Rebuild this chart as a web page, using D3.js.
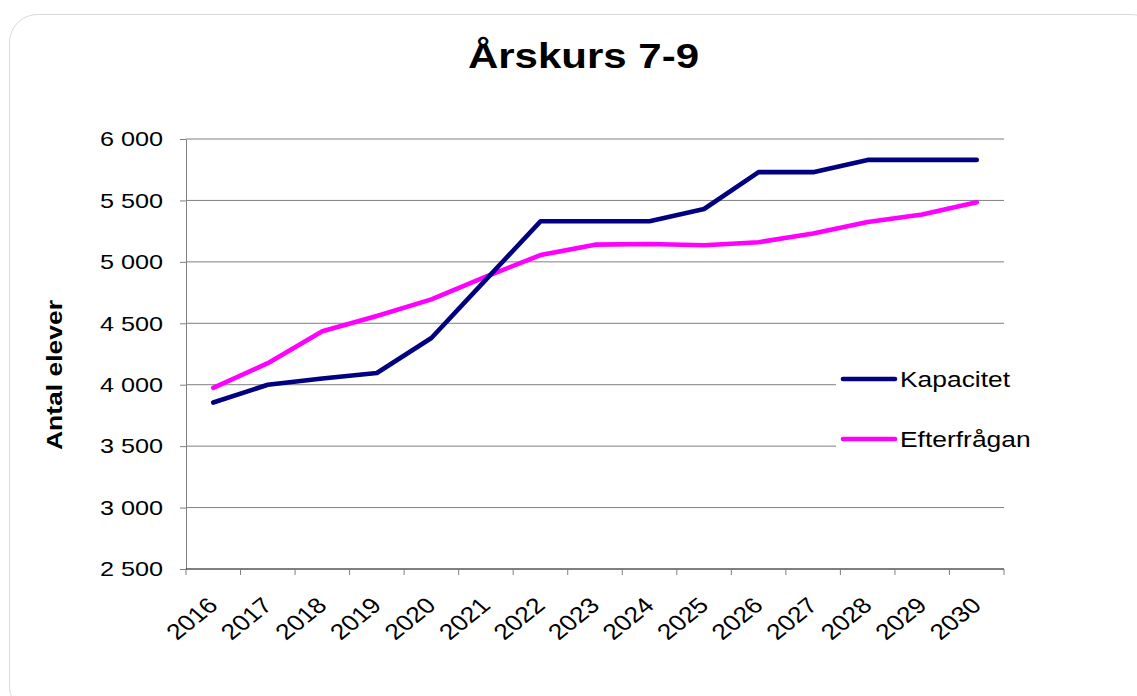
<!DOCTYPE html>
<html>
<head>
<meta charset="utf-8">
<script src="https://cdn.jsdelivr.net/npm/d3@7"></script>
<style>
  body { margin: 0; background: #fff; }
  text { font-family: Arial, "Liberation Sans", sans-serif; fill: #000; }
</style>
</head>
<body>
<script>
const years = ["2016", "2017", "2018", "2019", "2020", "2021", "2022", "2023", "2024", "2025", "2026", "2027", "2028", "2029", "2030"];
const kapacitet = [3855, 4000, 4050, 4095, 4380, 4855, 5330, 5330, 5330, 5430, 5730, 5730, 5830, 5830, 5830];
const efterfragan = [3975, 4175, 4435, 4560, 4695, 4880, 5055, 5140, 5145, 5135, 5160, 5230, 5325, 5385, 5485];
const yTicks = [2500, 3000, 3500, 4000, 4500, 5000, 5500, 6000];
const seriesNames = ["Kapacitet", "Efterfrågan"];

const width = 1137;
const height = 696;
const margin = { top: 139, right: 133, bottom: 127, left: 186 };
const stretchX = 1.2; // the original picture is wider than its fonts

const svg = d3.select("body").append("svg")
  .attr("width", width)
  .attr("height", height);

// widen a text horizontally like the reference
function stretch(sel) {
  sel.each(function () {
    const w = this.getComputedTextLength();
    d3.select(this).attr("textLength", w * stretchX).attr("lengthAdjust", "spacingAndGlyphs");
  });
}

// outer frame
svg.append("rect")
  .attr("x", 9.5).attr("y", 14.5)
  .attr("width", 1150).attr("height", 700)
  .attr("rx", 28)
  .attr("fill", "none")
  .attr("stroke", "#d9d9d9");

const x = d3.scaleBand()
  .domain(years)
  .range([margin.left, width - margin.right])
  .padding(0);

const y = d3.scaleLinear()
  .domain([2500, 6000])
  .range([height - margin.bottom, margin.top]);

const sv = d3.formatLocale({ decimal: ",", thousands: " ", grouping: [3], currency: ["", " kr"] });
const fmt = sv.format(",d");

// gridlines
svg.append("g")
  .selectAll("line")
  .data(yTicks.filter(d => d > 2500))
  .join("line")
  .attr("x1", margin.left).attr("x2", width - margin.right)
  .attr("y1", d => y(d)).attr("y2", d => y(d))
  .attr("stroke", "#7f7f7f")
  .attr("stroke-width", 1);

// y axis
const yAxis = svg.append("g")
  .attr("transform", `translate(${margin.left},0)`)
  .call(d3.axisLeft(y).tickValues(yTicks).tickFormat(fmt).tickSize(6).tickSizeOuter(0).tickPadding(17));
yAxis.select(".domain").attr("stroke", "#7f7f7f");
yAxis.selectAll(".tick line").attr("stroke", "#7f7f7f");
yAxis.selectAll(".tick text")
  .attr("font-size", 21)
  .attr("font-family", "Arial, 'Liberation Sans', sans-serif")
  .call(stretch);

// x axis with ticks at category edges
const xAxis = svg.append("g")
  .attr("transform", `translate(0,${height - margin.bottom})`);
xAxis.append("line")
  .attr("x1", margin.left).attr("x2", width - margin.right)
  .attr("stroke", "#000");
const edges = years.map(d => x(d)).concat([x(years[years.length - 1]) + x.bandwidth()]);
xAxis.selectAll("line.tk")
  .data(edges)
  .join("line")
  .attr("class", "tk")
  .attr("x1", d => d).attr("x2", d => d)
  .attr("y1", 0).attr("y2", 6)
  .attr("stroke", "#7f7f7f");
xAxis.selectAll("text")
  .data(years)
  .join("text")
  .attr("transform", d => `translate(${x(d) + x.bandwidth() / 2 + 6},38) scale(${stretchX},1) rotate(-44)`)
  .attr("text-anchor", "end")
  .attr("font-size", 22)
  .text(d => d);

// lines
const line = d3.line()
  .x((d, i) => x(years[i]) + x.bandwidth() / 2)
  .y(d => y(d));

const colors = ["#000080", "#ff00ff"];
[efterfragan, kapacitet].forEach((vals, k) => {
  svg.append("path")
    .datum(vals)
    .attr("d", line)
    .attr("fill", "none")
    .attr("stroke", k === 0 ? colors[1] : colors[0])
    .attr("stroke-width", 4.6)
    .attr("stroke-linecap", "round")
    .attr("stroke-linejoin", "round");
});

// title
svg.append("text")
  .attr("x", 583.5).attr("y", 68)
  .attr("text-anchor", "middle")
  .attr("font-size", 35)
  .attr("font-weight", "bold")
  .text("Årskurs 7-9")
  .call(stretch);

// y title
svg.append("text")
  .attr("transform", "translate(62,375) rotate(-90)")
  .attr("text-anchor", "middle")
  .attr("font-size", 22)
  .attr("font-weight", "bold")
  .attr("textLength", 150)
  .attr("lengthAdjust", "spacingAndGlyphs")
  .text("Antal elever");

// legend
const legend = svg.append("g");
legend.append("rect")
  .attr("x", 836).attr("y", 360)
  .attr("width", 205).attr("height", 100)
  .attr("fill", "#fff");
const items = legend.selectAll("g")
  .data(seriesNames)
  .join("g")
  .attr("transform", (d, i) => `translate(843,${379 + i * 60})`);
items.append("line")
  .attr("x1", 0).attr("x2", 52)
  .attr("stroke", (d, i) => colors[i])
  .attr("stroke-width", 4.6)
  .attr("stroke-linecap", "round");
items.append("text")
  .attr("x", 57).attr("y", 8)
  .attr("font-size", 22)
  .text(d => d)
  .call(stretch);
</script>
</body>
</html>
